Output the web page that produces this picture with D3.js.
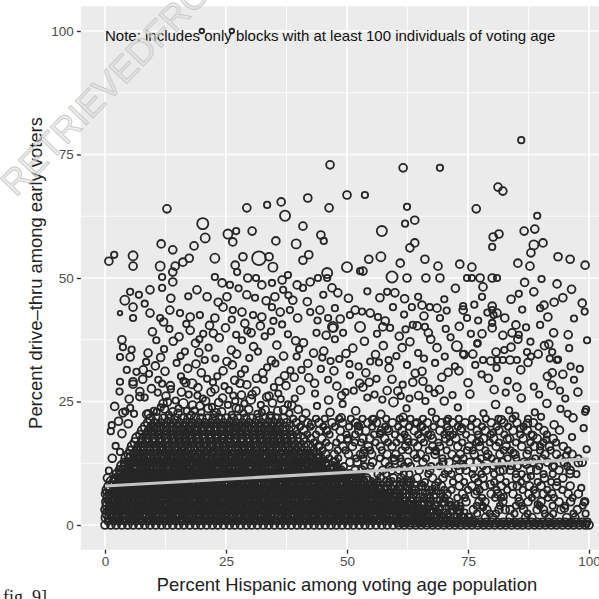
<!DOCTYPE html>
<html>
<head>
<meta charset="utf-8">
<script src="https://cdn.jsdelivr.net/npm/d3@7"></script>
<style>
  body { margin: 0; background: #fff; }
  svg { display: block; font-family: "Liberation Sans", Arial, sans-serif; }
</style>
</head>
<body>
<svg id="chart"></svg>
<script>
// Values. x = percent Hispanic, y = percent drive-thru,
// v = block size (hundreds of voters), drives the circle size.

// Black mass near zero, overlapping blocks: [y, v, [x ...]]
const denseRows = [
  [0, 3, [0,1.2,2.3,3.5,4.7,5.8,7,8.2,9.3,10.5,11.7,12.8,14,15.2,16.3,17.5,18.7,19.8,21,22.2,23.3,24.5,25.7,26.8,28,29.2,30.3,31.5,32.7,33.8,35,36.2,37.3,38.5,39.7,40.8,42,43.2,44.3,45.5,46.7,47.8,49,50.2,51.3,52.5,53.7,54.8,56,57.2,58.3,59.5,60.7,61.8,63,64.2,65.3,66.5,67.7,68.8,70,71.2,72.3,73.5,74.7,75.8,77,78.2,79.3,80.5,81.7,82.8,84,85.2,86.3,87.5,88.7,89.8,91,92.2,93.3,94.5,95.7,96.8,98,99.2,100]],
  [0.3, 2, [60.5,61.4,62.3,63.1,64,64.9,65.7,66.6,67.5,68.3,69.2,70.1,70.9,71.8,72.7,73.5,74.4,75.3,76.1,77,77.9,78.7,79.6,80.5,81.3,82.2,83.1,83.9,84.8,85.7,86.5,87.4,88.3,89.1,90,90.9,91.7,92.6,93.5,94.3,95.2,96.1,96.9,97.8,98.7,99.5]],
  [0.7, 2, [0.6,1.8,2.9,4.1,5.3,6.4,7.6,8.8,9.9,11.1,12.3,13.4,14.6,15.8,16.9,18.1,19.3,20.4,21.6,22.8,23.9,25.1,26.3,27.4,28.6,29.8,30.9,32.1,33.3,34.4,35.6,36.8,37.9,39.1,40.3,41.4,42.6,43.8,44.9,46.1,47.3,48.4,49.6,50.8,51.9,53.1,54.3,55.4,56.6,57.8,58.9,60.1,61.3,62.4,63.6,64.8,65.9,67.1,68.3,69.4,70.6,71.8,72.9,74.1,75.3,76.4,77.6,78.8,79.9,81.1,82.3,83.4,84.6,85.8,86.9,88.1,89.3,90.4,91.6,92.8,93.9,95.1,96.3,97.4,98.6,99.7]],
  [1.5, 4, [0.2,0.9,1.8,2.6,3.6,4.3,5.2,6,7,7.7,8.6,9.4,10.4,11.1,12,12.8,13.8,14.5,15.4,16.2,17.2,17.9,18.8,19.6,20.6,21.3,22.2,23,24,24.7,25.6,26.4,27.4,28.1,29,29.8,30.8,31.5,32.4,33.2,34.2,34.9,35.8,36.6,37.6,38.3,39.2,40,41,41.7,42.6,43.4,44.4,45.1,46,46.8,47.8,48.5,49.4,50.2,51.2,51.9,52.8,53.6,54.6,55.3,56.2,57,58,58.7,59.6,60.4,61.4,62.1,63,63.8,64.8,65.5,66.4,67.2,68.2,68.9,69.8]],
  [2.3, 6, [0.6,1.5,2.2,3.2,4,4.9,5.6,6.6,7.4,8.3,9,10,10.8,11.7,12.4,13.4,14.2,15.1,15.8,16.8,17.6,18.5,19.2,20.2,21,21.9,22.6,23.6,24.4,25.3,26,27,27.8,28.7,29.4,30.4,31.2,32.1,32.8,33.8,34.6,35.5,36.2,37.2,38,38.9,39.6,40.6,41.4,42.3,43,44,44.8,45.7,46.4,47.4,48.2,49.1,49.8,50.8,51.6,52.5,53.2,54.2,55,55.9,56.6,57.6,58.4,59.3,60,61,61.8,62.7,63.4,64.4,65.2,66.1,66.8,67.8]],
  [3.1, 3, [0,0.8,1.8,2.5,3.4,4.2,5.2,5.9,6.8,7.6,8.6,9.3,10.2,11,12,12.7,13.6,14.4,15.4,16.1,17,17.8,18.8,19.5,20.4,21.2,22.2,22.9,23.8,24.6,25.6,26.3,27.2,28,29,29.7,30.6,31.4,32.4,33.1,34,34.8,35.8,36.5,37.4,38.2,39.2,39.9,40.8,41.6,42.6,43.3,44.2,45,46,46.7,47.6,48.4,49.4,50.1,51,51.8,52.8,53.5,54.4,55.2,56.2,56.9,57.8,58.6,59.6,60.3,61.2,62,63,63.7,64.6,65.4,66.4,67.1]],
  [3.9, 5, [0.5,1.5,2.2,3.1,3.9,4.9,5.6,6.5,7.3,8.3,9,9.9,10.7,11.7,12.4,13.3,14.1,15.1,15.8,16.7,17.5,18.5,19.2,20.1,20.9,21.9,22.6,23.5,24.3,25.3,26,26.9,27.7,28.7,29.4,30.3,31.1,32.1,32.8,33.7,34.5,35.5,36.2,37.1,37.9,38.9,39.6,40.5,41.3,42.3,43,43.9,44.7,45.7,46.4,47.3,48.1,49.1,49.8,50.7,51.5,52.5,53.2,54.1,54.9,55.9,56.6,57.5,58.3,59.3,60,60.9,61.7,62.7,63.4,64.3,65.1]],
  [4.7, 4, [0.3,1,1.9,2.7,3.7,4.4,5.3,6.1,7.1,7.8,8.7,9.5,10.5,11.2,12.1,12.9,13.9,14.6,15.5,16.3,17.3,18,18.9,19.7,20.7,21.4,22.3,23.1,24.1,24.8,25.7,26.5,27.5,28.2,29.1,29.9,30.9,31.6,32.5,33.3,34.3,35,35.9,36.7,37.7,38.4,39.3,40.1,41.1,41.8,42.7,43.5,44.5,45.2,46.1,46.9,47.9,48.6,49.5,50.3,51.3,52,52.9,53.7,54.7,55.4,56.3,57.1,58.1,58.8,59.7,60.5,61.5,62.2,63.1]],
  [5.5, 6, [0.8,1.7,2.4,3.4,4.2,5.1,5.8,6.8,7.6,8.5,9.2,10.2,11,11.9,12.6,13.6,14.4,15.3,16,17,17.8,18.7,19.4,20.4,21.2,22.1,22.8,23.8,24.6,25.5,26.2,27.2,28,28.9,29.6,30.6,31.4,32.3,33,34,34.8,35.7,36.4,37.4,38.2,39.1,39.8,40.8,41.6,42.5,43.2,44.2,45,45.9,46.6,47.6,48.4,49.3,50,51,51.8,52.7,53.4,54.4,55.2,56.1,56.8,57.8,58.6,59.5,60.2,61.2]],
  [6.3, 3, [0.1,0.9,1.9,2.6,3.5,4.3,5.3,6,6.9,7.7,8.7,9.4,10.3,11.1,12.1,12.8,13.7,14.5,15.5,16.2,17.1,17.9,18.9,19.6,20.5,21.3,22.3,23,23.9,24.7,25.7,26.4,27.3,28.1,29.1,29.8,30.7,31.5,32.5,33.2,34.1,34.9,35.9,36.6,37.5,38.3,39.3,40,40.9,41.7,42.7,43.4,44.3,45.1,46.1,46.8,47.7,48.5,49.5,50.2,51.1,51.9,52.9,53.6,54.5,55.3,56.3,57,57.9,58.7,59.7,60.4]],
  [7.1, 5, [0.5,1.2,2.1,2.9,3.9,4.6,5.5,6.3,7.3,8,8.9,9.7,10.7,11.4,12.3,13.1,14.1,14.8,15.7,16.5,17.5,18.2,19.1,19.9,20.9,21.6,22.5,23.3,24.3,25,25.9,26.7,27.7,28.4,29.3,30.1,31.1,31.8,32.7,33.5,34.5,35.2,36.1,36.9,37.9,38.6,39.5,40.3,41.3,42,42.9,43.7,44.7,45.4,46.3,47.1,48.1,48.8,49.7,50.5,51.5,52.2,53.1,53.9,54.9,55.6,56.5,57.3,58.3]],
  [7.9, 4, [0.8,1.8,2.6,3.3,4.2,5.2,6,6.7,7.6,8.6,9.4,10.1,11,12,12.8,13.5,14.4,15.4,16.2,16.9,17.8,18.8,19.6,20.3,21.2,22.2,23,23.7,24.6,25.6,26.4,27.1,28,29,29.8,30.5,31.4,32.4,33.2,33.9,34.8,35.8,36.6,37.3,38.2,39.2,40,40.7,41.6,42.6,43.4,44.1,45,46,46.8,47.5,48.4,49.4,50.2,50.9,51.8,52.8,53.6,54.3,55.2,56.2]],
  [8.7, 6, [1.4,2.1,3.1,3.9,4.8,5.5,6.5,7.3,8.2,8.9,9.9,10.7,11.6,12.3,13.3,14.1,15,15.7,16.7,17.5,18.4,19.1,20.1,20.9,21.8,22.5,23.5,24.3,25.2,25.9,26.9,27.7,28.6,29.3,30.3,31.1,32,32.7,33.7,34.5,35.4,36.1,37.1,37.9,38.8,39.5,40.5,41.3,42.2,42.9,43.9,44.7,45.6,46.3,47.3,48.1,49,49.7,50.7,51.5,52.4,53.1,54.1]],
  [9.5, 3, [2,2.9,3.7,4.4,5.4,6.3,7.1,7.8,8.8,9.7,10.5,11.2,12.2,13.1,13.9,14.6,15.6,16.5,17.3,18,19,19.9,20.7,21.4,22.4,23.3,24.1,24.8,25.8,26.7,27.5,28.2,29.2,30.1,30.9,31.6,32.6,33.5,34.3,35,36,36.9,37.7,38.4,39.4,40.3,41.1,41.8,42.8,43.7,44.5,45.2,46.2,47.1,47.9,48.6,49.6,50.5,51.3,52,53]],
  [10.3, 5, [2.6,3.6,4.4,5.3,6,7,7.8,8.7,9.4,10.4,11.2,12.1,12.8,13.8,14.6,15.5,16.2,17.2,18,18.9,19.6,20.6,21.4,22.3,23,24,24.8,25.7,26.4,27.4,28.2,29.1,29.8,30.8,31.6,32.5,33.2,34.2,35,35.9,36.6,37.6,38.4,39.3,40,41,41.8,42.7,43.4,44.4,45.2,46.1,46.8,47.8,48.6,49.5]],
  [11.1, 4, [3.1,3.9,4.8,5.8,6.5,7.3,8.2,9.2,9.9,10.7,11.6,12.6,13.3,14.1,15,16,16.7,17.5,18.4,19.4,20.1,20.9,21.8,22.8,23.5,24.3,25.2,26.2,26.9,27.7,28.6,29.6,30.3,31.1,32,33,33.7,34.5,35.4,36.4,37.1,37.9,38.8,39.8,40.5,41.3,42.2,43.2,43.9,44.7,45.6,46.6,47.3]],
  [11.9, 6, [3.6,4.5,5.5,6.2,7,7.9,8.9,9.6,10.4,11.3,12.3,13,13.8,14.7,15.7,16.4,17.2,18.1,19.1,19.8,20.6,21.5,22.5,23.2,24,24.9,25.9,26.6,27.4,28.3,29.3,30,30.8,31.7,32.7,33.4,34.2,35.1,36.1,36.8,37.6,38.5,39.5,40.2,41,41.9,42.9,43.6,44.4,45.3,46.3]],
  [12.7, 3, [4,4.7,5.6,6.4,7.4,8.1,9,9.8,10.8,11.5,12.4,13.2,14.2,14.9,15.8,16.6,17.6,18.3,19.2,20,21,21.7,22.6,23.4,24.4,25.1,26,26.8,27.8,28.5,29.4,30.2,31.2,31.9,32.8,33.6,34.6,35.3,36.2,37,38,38.7,39.6,40.4,41.4,42.1,43,43.8,44.8,45.5]],
  [13.5, 5, [4.4,5.4,6.5,7.4,8.4,9.4,10.5,11.4,12.4,13.4,14.5,15.4,16.4,17.4,18.5,19.4,20.4,21.4,22.5,23.4,24.4,25.4,26.5,27.4,28.4,29.4,30.5,31.4,32.4,33.4,34.5,35.4,36.4,37.4,38.5,39.4,40.4,41.4,42.5,43.4,44.4]],
  [14.3, 4, [4.9,6,6.9,7.9,8.9,10,10.9,11.9,12.9,14,14.9,15.9,16.9,18,18.9,19.9,20.9,22,22.9,23.9,24.9,26,26.9,27.9,28.9,30,30.9,31.9,32.9,34,34.9,35.9,36.9,38,38.9,39.9,40.9,42,42.9,43.9]],
  [15.1, 3, [5.2,6.7,8,9.3,10.6,11.9,13.2,14.5,15.8,17.1,18.4,19.7,21,22.3,23.6,24.9,26.2,27.5,28.8,30.1,31.4,32.7,34,35.3,36.6,37.9,39.2,40.5,41.8,43.1]],
  [15.9, 5, [5.7,7.1,8.4,9.7,11,12.3,13.6,14.9,16.2,17.5,18.8,20.1,21.4,22.7,24,25.3,26.6,27.9,29.2,30.5,31.8,33.1,34.4,35.7,37,38.3,39.6,40.9,42.2]],
  [16.7, 4, [6.2,7.6,8.9,10.2,11.5,12.8,14.1,15.4,16.7,18,19.3,20.6,21.9,23.2,24.5,25.8,27.1,28.4,29.7,31,32.3,33.6,34.9,36.2,37.5,38.8,40.1,41.4]],
  [17.5, 6, [6.7,8.1,9.4,10.7,12,13.3,14.6,15.9,17.2,18.5,19.8,21.1,22.4,23.7,25,26.3,27.6,28.9,30.2,31.5,32.8,34.1,35.4,36.7,38,39.3,40.6]],
  [18.3, 3, [7.2,8.6,9.9,11.2,12.5,13.8,15.1,16.4,17.7,19,20.3,21.6,22.9,24.2,25.5,26.8,28.1,29.4,30.7,32,33.3,34.6,35.9,37.2,38.5,39.8]],
  [19.1, 5, [7.8,9.2,10.5,11.8,13.1,14.4,15.7,17,18.3,19.6,20.9,22.2,23.5,24.8,26.1,27.4,28.7,30,31.3,32.6,33.9,35.2,36.5,37.8,39.1]],
  [19.9, 4, [8.3,9.7,11,12.3,13.6,14.9,16.2,17.5,18.8,20.1,21.4,22.7,24,25.3,26.6,27.9,29.2,30.5,31.8,33.1,34.4,35.7,37,38.3]],
  [20.7, 3, [8.8,10.2,11.5,12.8,14.1,15.4,16.7,18,19.3,20.6,21.9,23.2,24.5,25.8,27.1,28.4,29.7,31,32.3,33.6,34.9,36.2,37.5]],
  [21.5, 4, [9.4,10.8,12.1,13.4,14.7,16,17.3,18.6,19.9,21.2,22.5,23.8,25.1,26.4,27.7,29,30.3,31.6,32.9,34.2,35.5,36.8]]
];

// Small blocks lying between the rows above: [y, v, [x ...]]
const smallRows = [
  [1.1, 1, [0.5,1.9,3.3,4.7,6.1,7.5,8.9,10.3,11.7,13.1,14.5,15.9,17.3,18.7,20.1,21.5,22.9,24.3,25.7,27.1,28.5,29.9,31.3,32.7,34.1,35.5,36.9,38.3,39.7,41.1,42.5,43.9,45.3,46.7,48.1,49.5,50.9,52.3,53.7,55.1,56.5,57.9,59.3,60.7,62.1,63.5,64.9,66.3,67.7,69.1,70.5,71.9,73.3,74.7,76.1]],
  [1.9, 1, [1.1,2.5,3.9,5.3,6.7,8.1,9.5,10.9,12.3,13.7,15.1,16.5,17.9,19.3,20.7,22.1,23.5,24.9,26.3,27.7,29.1,30.5,31.9,33.3,34.7,36.1,37.5,38.9,40.3,41.7,43.1,44.5,45.9,47.3,48.7,50.1,51.5,52.9,54.3,55.7,57.1,58.5,59.9,61.3,62.7,64.1,65.5,66.9,68.3,69.7,71.1,72.5,73.9,75.3]],
  [2.7, 1, [0.2,1.6,3,4.4,5.8,7.2,8.6,10,11.4,12.8,14.2,15.6,17,18.4,19.8,21.2,22.6,24,25.4,26.8,28.2,29.6,31,32.4,33.8,35.2,36.6,38,39.4,40.8,42.2,43.6,45,46.4,47.8,49.2,50.6,52,53.4,54.8,56.2,57.6,59,60.4,61.8,63.2,64.6,66,67.4,68.8,70.2,71.6,73,74.4]],
  [3.5, 1, [0.8,2.2,3.6,5,6.4,7.8,9.2,10.6,12,13.4,14.8,16.2,17.6,19,20.4,21.8,23.2,24.6,26,27.4,28.8,30.2,31.6,33,34.4,35.8,37.2,38.6,40,41.4,42.8,44.2,45.6,47,48.4,49.8,51.2,52.6,54,55.4,56.8,58.2,59.6,61,62.4,63.8,65.2,66.6,68,69.4,70.8,72.2,73.6]],
  [4.3, 1, [1.3,2.7,4.1,5.5,6.9,8.3,9.7,11.1,12.5,13.9,15.3,16.7,18.1,19.5,20.9,22.3,23.7,25.1,26.5,27.9,29.3,30.7,32.1,33.5,34.9,36.3,37.7,39.1,40.5,41.9,43.3,44.7,46.1,47.5,48.9,50.3,51.7,53.1,54.5,55.9,57.3,58.7,60.1,61.5,62.9,64.3,65.7,67.1,68.5,69.9,71.3,72.7]],
  [5.1, 1, [0.4,1.8,3.2,4.6,6,7.4,8.8,10.2,11.6,13,14.4,15.8,17.2,18.6,20,21.4,22.8,24.2,25.6,27,28.4,29.8,31.2,32.6,34,35.4,36.8,38.2,39.6,41,42.4,43.8,45.2,46.6,48,49.4,50.8,52.2,53.6,55,56.4,57.8,59.2,60.6,62,63.4,64.8,66.2,67.6,69,70.4]],
  [5.9, 1, [1,2.4,3.8,5.2,6.6,8,9.4,10.8,12.2,13.6,15,16.4,17.8,19.2,20.6,22,23.4,24.8,26.2,27.6,29,30.4,31.8,33.2,34.6,36,37.4,38.8,40.2,41.6,43,44.4,45.8,47.2,48.6,50,51.4,52.8,54.2,55.6,57,58.4,59.8,61.2,62.6,64,65.4,66.8,68.2,69.6]],
  [6.7, 1, [0.1,1.5,2.9,4.3,5.7,7.1,8.5,9.9,11.3,12.7,14.1,15.5,16.9,18.3,19.7,21.1,22.5,23.9,25.3,26.7,28.1,29.5,30.9,32.3,33.7,35.1,36.5,37.9,39.3,40.7,42.1,43.5,44.9,46.3,47.7,49.1,50.5,51.9,53.3,54.7,56.1,57.5,58.9,60.3,61.7,63.1,64.5,65.9,67.3,68.7]],
  [7.5, 1, [0.7,2.1,3.5,4.9,6.3,7.7,9.1,10.5,11.9,13.3,14.7,16.1,17.5,18.9,20.3,21.7,23.1,24.5,25.9,27.3,28.7,30.1,31.5,32.9,34.3,35.7,37.1,38.5,39.9,41.3,42.7,44.1,45.5,46.9,48.3,49.7,51.1,52.5,53.9,55.3,56.7,58.1,59.5,60.9,62.3,63.7,65.1,66.5,67.9]],
  [8.3, 1, [1.2,2.6,4,5.4,6.8,8.2,9.6,11,12.4,13.8,15.2,16.6,18,19.4,20.8,22.2,23.6,25,26.4,27.8,29.2,30.6,32,33.4,34.8,36.2,37.6,39,40.4,41.8,43.2,44.6,46,47.4,48.8,50.2,51.6,53,54.4,55.8,57.2,58.6,60,61.4,62.8,64.2,65.6]],
  [9.1, 1, [1.9,3.3,4.7,6.1,7.5,8.9,10.3,11.7,13.1,14.5,15.9,17.3,18.7,20.1,21.5,22.9,24.3,25.7,27.1,28.5,29.9,31.3,32.7,34.1,35.5,36.9,38.3,39.7,41.1,42.5,43.9,45.3,46.7,48.1,49.5,50.9,52.3,53.7,55.1,56.5,57.9,59.3,60.7,62.1,63.5]],
  [9.9, 1, [2.4,3.8,5.2,6.6,8,9.4,10.8,12.2,13.6,15,16.4,17.8,19.2,20.6,22,23.4,24.8,26.2,27.6,29,30.4,31.8,33.2,34.6,36,37.4,38.8,40.2,41.6,43,44.4,45.8,47.2,48.6,50,51.4,52.8]],
  [10.7, 1, [2.9,4.3,5.7,7.1,8.5,9.9,11.3,12.7,14.1,15.5,16.9,18.3,19.7,21.1,22.5,23.9,25.3,26.7,28.1,29.5,30.9,32.3,33.7,35.1,36.5,37.9,39.3,40.7,42.1,43.5,44.9,46.3,47.7,49.1,50.5]],
  [11.5, 1, [3.4,4.8,6.2,7.6,9,10.4,11.8,13.2,14.6,16,17.4,18.8,20.2,21.6,23,24.4,25.8,27.2,28.6,30,31.4,32.8,34.2,35.6,37,38.4,39.8,41.2,42.6,44,45.4,46.8,48.2]],
  [12.3, 1, [3.8,5.2,6.6,8,9.4,10.8,12.2,13.6,15,16.4,17.8,19.2,20.6,22,23.4,24.8,26.2,27.6,29,30.4,31.8,33.2,34.6,36,37.4,38.8,40.2,41.6,43,44.4,45.8,47.2]],
  [13.1, 1, [4.5,5.9,7.3,8.7,10.1,11.5,12.9,14.3,15.7,17.1,18.5,19.9,21.3,22.7,24.1,25.5,26.9,28.3,29.7,31.1,32.5,33.9,35.3,36.7,38.1,39.5,40.9,42.3,43.7,45.1]],
  [13.9, 1, [4.9,6.3,7.7,9.1,10.5,11.9,13.3,14.7,16.1,17.5,18.9,20.3,21.7,23.1,24.5,25.9,27.3,28.7,30.1,31.5,32.9,34.3,35.7,37.1,38.5,39.9,41.3,42.7,44.1]],
  [14.7, 1, [5.5,6.9,8.3,9.7,11.1,12.5,13.9,15.3,16.7,18.1,19.5,20.9,22.3,23.7,25.1,26.5,27.9,29.3,30.7,32.1,33.5,34.9,36.3,37.7,39.1,40.5,41.9]],
  [15.5, 1, [6.2,7.6,9,10.4,11.8,13.2,14.6,16,17.4,18.8,20.2,21.6,23,24.4,25.8,27.2,28.6,30,31.4,32.8,34.2,35.6,37,38.4,39.8]],
  [16.3, 1, [6.6,8,9.4,10.8,12.2,13.6,15,16.4,17.8,19.2,20.6,22,23.4,24.8,26.2,27.6,29,30.4,31.8,33.2,34.6,36,37.4,38.8]],
  [17.1, 1, [7.3,8.7,10.1,11.5,12.9,14.3,15.7,17.1,18.5,19.9,21.3,22.7,24.1,25.5,26.9,28.3,29.7,31.1,32.5,33.9,35.3,36.7,38.1]],
  [17.9, 1, [7.7,9.1,10.5,11.9,13.3,14.7,16.1,17.5,18.9,20.3,21.7,23.1,24.5,25.9,27.3,28.7,30.1,31.5,32.9,34.3,35.7,37.1]],
  [18.7, 1, [8.4,9.8,11.2,12.6,14,15.4,16.8,18.2,19.6,21,22.4,23.8,25.2,26.6,28,29.4,30.8,32.2,33.6,35,36.4]],
  [19.5, 1, [8.9,10.3,11.7,13.1,14.5,15.9,17.3,18.7,20.1,21.5,22.9,24.3,25.7,27.1,28.5,29.9,31.3,32.7,34.1,35.5]],
  [20.3, 1, [9.5,10.9,12.3,13.7,15.1,16.5,17.9,19.3,20.7,22.1,23.5,24.9,26.3,27.7,29.1,30.5,31.9,33.3,34.7]]
];

// Right-hand continuation of the same rows, less crowded: [y, v, [x ...]]
const lightRows = [
  [1.5, 3, [71.3,73.9,75.2,78.6,80.1,83.7,86.9,88.2,91.8,95.4,97.1]],
  [2.3, 2, [69.1,70.8,73.2,76.9,79.5,80.8,84.6,87.3,90.9,92.6,96.8,99.3]],
  [3.1, 3, [68.9,71.7,73,76.1,78.9,81.4,82.7,86.5,89.3,90.6,94.2,97.6]],
  [3.9, 2, [66.8,68.3,71.5,73.4,76.8,78,81.6,84.9,86.1,89.8,92.5,95.1,98.7]],
  [4.7, 3, [65.5,67.2,69.9,71.1,74.6,77.3,78.5,82.2,85.6,87.4,90.1,93.8,96.2,99.1]],
  [5.5, 2, [63.4,65.9,67.1,70.2,72.8,74.4,77.9,80.6,81.9,85.4,88.2,91.5,92.8,96.6]],
  [6.3, 3, [62.2,63.7,66.6,69.4,70.7,73.9,76.5,79.8,81.1,84.3,87.6,89,92.3,95.7,97.8]],
  [7.1, 2, [60.3,62.8,64.1,67.4,70.1,71.6,75,77.4,80.9,83.1,86.3,88.6,91.4,94.5]],
  [7.9, 3, [58.2,60.9,62.4,65.6,68.3,69.5,73.2,75.8,78.4,81.9,84.2,87.7,90.1,93.3,96.1]],
  [8.7, 2, [56.3,58.7,61.5,62.9,66.1,68.8,71.9,74.2,77.1,80.4,82.8,86,89.4,92.2]],
  [9.5, 3, [54.1,56.9,59.6,61.2,64.5,67.7,69.8,73.1,76.4,78.1,81.6,85,87.1,90.8,94.6]],
  [10.3, 2, [50.9,52.4,56.3,58.1,61.7,62.9,66.8,70.2,71.6,75.9,77.8,80.4,84.9,86.1,90.6,92.5,97.4]],
  [11.1, 3, [48.8,51.7,53.1,57.4,59.2,60.8,64.9,67.1,70.9,73.3,74.6,78.8,82.3,83.7,87.9,89.2,93.8,96.1]],
  [11.9, 2, [47.9,49.4,53.6,54.9,58.7,61.8,63.2,67.4,69.1,72.8,74.2,78.1,80.2,83.9,85.3,89.7,92.8,95.5]],
  [12.7, 3, [47.2,50.6,52.1,55.3,57.9,61.2,62.6,65.7,69.8,71.1,75.4,76.9,80.9,82.1,86.6,88.3,91.4,94.9,98.6]],
  [13.5, 2, [46.3,48.2,51.9,53.4,56.8,59.6,61,64.4,66.3,69.7,72.6,74.1,77.7,79.9,83.2,85,88.9,90.4,94.1,97.8]],
  [14.3, 3, [45.6,47.4,50.3,52.8,55.1,58.3,60.1,63.9,65.2,68.2,71.7,73.4,76.3,79.1,81.6,84.7,87.2,90.9,93.3,96.5]],
  [15.1, 2, [44.9,48.1,49.7,53.5,54.8,57.2,61.3,62.7,66.9,68.3,70.6,74.8,76,78.6,82.4,83.8,87.5,89.9,92.1,95.6]],
  [15.9, 3, [44.1,46.3,49.2,51.1,54.4,56.9,59.3,62.1,64.6,67.7,69.1,72.9,75.2,77.4,80.8,82.9,86.1,88.7,91.8,94.7]],
  [16.7, 2, [43.2,45.7,47.8,51.6,52.9,55.9,58.5,60.2,63.8,65.9,68.9,71.2,73.8,76.7,79.5,81.4,84.9,87.9,90.6,93.2]],
  [17.5, 3, [42.5,44.8,48.7,50.2,53.3,54.7,57.8,61.1,62.4,65.3,67.6,70.4,72.5,75.7,78.2,80.3,83.6,86.4,89.3,92.6]],
  [18.3, 2, [41.8,43.6,46.4,49.9,51.7,55.6,56.8,59.9,61.9,64.7,66.8,70.1,71.9,74.6,77.1,79.7,82.5,85.8,88.1,91.3]],
  [19.1, 3, [41.1,44.3,45.8,48.6,52.4,53.9,57.1,58.6,61.4,63.9,66.2,69.2,71.1,73.5,76.9,78.6,81.4,84.3,87.3,90.7]],
  [19.9, 2, [40.3,42.4,45.1,47.5,50.4,52.5,55.2,57.9,60.6,62.8,65.6,67.9,70.7,72.9,75.6,77.9,80.9,83.3,86.5,89.6]],
  [20.7, 3, [39.5,41.9,44.2,46.9,49.1,51.8,54.3,56.1,59.4,61.7,64.5,66.6,69.5,71.8,74.4,76.8,79.8,82.4,85.1,88.5]],
  [21.5, 2, [38.9,40.8,43.6,45.4,48.4,50.8,53.2,55.5,58.1,60.9,63.1,65.7,68.4,70.9,73.1,75.9,78.7,81.3,84.2,87.4]]
];

// Scattered points from the top of the mass up to about 40 percent: [x, y, v]
const midPoints = [
  [0.5,9.5,3],[0.8,11,2],[1.5,13.5,3],[2.2,16,2],[1.2,19,2],[1.4,20.2,2],[2.8,21,3],[3.5,18.5,3],[3.1,14.8,2],[3.7,22.7,3],[5.2,23.7,2],[4.8,20.5,3],[6,22.5,2],[4.2,23,2],[5,25.5,3],[3,27,2],[7.2,27,3],[5.8,28.5,3],[6.5,31,2],[7.2,26,3],[7.8,29.5,3],[8.5,33,2],[5.5,35.5,2],[2,24,3],[3.1,29,2],[5.8,29,3],[4.5,31.4,2],[7.9,31.4,3],[3.1,34,2],[5.2,34,3],[3.7,36,2],[3.5,37.5,3],
  [8.6,22.4,3],[10.7,22.9,2],[12.3,23.5,3],[13.2,22.3,2],[15.1,22.6,3],[16.9,23.1,2],[17.8,22.2,3],[19.9,22.8,2],[21.3,23.6,3],[22.4,22.4,2],[24.1,22.9,3],[26.2,22.3,2],[27.1,23.7,3],[28.6,22.6,2],[29.7,23.4,3],[31.5,22.5,2],[33.1,23.3,3],[34.2,22.2,2],[35.7,23.1,3],[38.1,22.6,2],[39.9,23.4,3],
  [12,24.6,3],[14.6,25.2,2],[18.1,24.3,3],[20.2,25.6,2],[23.5,24.8,3],[26.9,25.1,2],[28.2,26.3,3],[32.2,24.3,2],[33.9,26.1,3],[36.3,25.5,2],[38.6,24.2,3],[10.9,26.8,2],[15.8,26.9,3],[19.1,26.2,2],[22.7,27.5,3],[25.6,27.3,2],[30.4,26.4,3],[34.9,27.9,2],[37.4,28.2,3],[11.8,28.6,2],[16.7,28.8,3],[21.1,29.6,2],[27.9,28.7,3],[32.8,29.4,2],[39.1,29.9,3],
  [9,22.5,3],[11.5,23.8,2],[14,22.9,3],[16.2,24.6,4],[18.5,23.2,2],[20.8,25.1,3],[23,22.7,3],[25.4,24.3,2],[27.7,23.5,3],[30.1,25.4,4],[32.4,22.8,2],[34.6,24.7,3],[36.9,23.3,3],[39.2,25.6,2],[41.5,22.6,3],[43.8,24.1,2],[8.2,25.8,2],[12.6,26.1,3],[17.3,26.4,2],[21.9,26.9,3],[26.5,26.2,2],[31.2,27.1,3],[35.8,26.6,2],[40.4,27.3,3],
  [10.1,23.1,2],[12.9,24.9,3],[15.2,23.6,2],[19.6,24.1,3],[22.1,23.9,2],[24.3,25.7,3],[28.8,24.6,2],[33.4,25.9,3],[37.8,24.4,2],[13.6,27.5,2],[19.2,27.8,3],[24.7,28.1,2],[29.3,28.4,3],
  [9.6,27.6,3],[11,29.4,2],[13.5,28.2,3],[15.7,30.1,2],[18,28.6,4],[19.9,30.8,3],[22.3,28.9,2],[24.4,31.2,3],[26.8,29.3,3],[28.9,31.5,2],[31.3,29.7,3],[33.5,31.9,2],[36,29.1,3],[38.3,31.3,2],[42.1,29.8,3],[44.6,31.6,2],[10.4,32.2,3],[14.8,32.8,2],[17.1,31.7,3],[20.6,33.4,2],[25.2,33.1,3],[29.8,33.8,2],[34.4,33.3,3],[39.6,34.1,2],
  [9.1,30.6,2],[12.4,31.1,3],[16.2,29.2,2],[18.8,32.6,3],[23.2,30.1,2],[26.3,32.4,3],[28.1,30.6,2],[32.6,30.8,3],[35.2,32.7,2],[37.1,30.2,3],[40.6,31.4,2],[43.3,28.7,3],[46.1,29.4,2],[48.9,26.2,3],[51.4,27.2,2],[54.6,28.9,3],[57.3,25.4,2],[60.5,27.1,3],[62.9,25.6,2],[65.7,29.1,3],[68.1,26.7,2],
  [11.5,33.9,3],[15.6,34.2,2],[19.4,34.9,3],[22.8,33.7,2],[27.2,34.6,3],[31.6,35.1,2],[36.9,34.2,3],[40.1,35.6,2],[43.1,34.8,3],[46.6,33.2,2],[49.8,34.7,3],[52.4,32.1,2],[55.9,34.5,3],[58.6,33.4,2],[61.4,35.9,3],[64.7,34.8,2],[67.3,37.6,3],[70.2,34.1,2],[73.1,31.2,3],[76.5,32.4,2],[79.2,29.7,3],
  [8.9,34.8,3],[12.2,35.6,2],[14.1,37.2,3],[16.5,35.1,2],[18.7,36.8,3],[21.4,35.9,2],[23.6,37.9,3],[26.1,35.4,3],[28.3,37.4,2],[30.7,36.1,3],[33,38.2,2],[35.5,36.4,3],[37.8,38.6,2],[41,36.9,3],[43.7,38.9,2],[9.8,39.1,3],[13.3,39.7,2],[17.6,39.4,3],[20.3,38.7,2],[24.9,39.9,3],[29.4,39.3,2],[32.1,40.3,3],[36.6,40.6,2],[45.2,35.2,3],[47.5,37.6,2],
  [10.6,37.4,2],[15.3,38.1,3],[19.5,37.6,2],[22.4,38.8,3],[27.1,38.5,2],[30.2,38.9,3],[34.3,39.2,2],[39.4,37.3,3],[45.7,38.4,3],[49.2,38.9,2],[53.6,37.2,3],[56.2,38.7,2],[60.8,38.2,3],[62.1,39.6,2],[66.8,38.9,3],[70.4,39.7,2],
  [41.2,13.6,3],[44.3,15.9,2],[47.6,12.8,3],[50.1,17.3,2],[53.4,14.4,3],[56.8,18.6,2],[59.9,13.1,3],[62.7,16.8,2],[65.3,19.9,3],[68.4,14.9,2],[71.2,18.1,3],[73.9,12.4,2],
  [42.7,20.4,3],[45.9,19.1,2],[48.8,21.7,3],[52.2,20.1,2],[55.3,21.3,3],[58.4,19.4,2],[61.6,21.8,3],[64.2,20.6,2],[67.3,18.2,3],[70.6,21.1,2],[73.7,19.6,3],
  [43.4,26.6,2],[46.2,25.3,3],[49.7,26.9,2],[52.6,28.7,3],[55.7,26.4,2],[58.3,27.2,3],[61.1,26.1,2],[63.6,28.9,3],[66.2,25.1,2],[69.1,27.4,3],[71.8,26.3,2],
  [41.9,32.7,3],[44.9,33.9,2],[47.3,31.2,3],[50.5,32.6,2],[53.9,30.8,3],[56.6,32.9,2],[59.3,29.5,3],[62.4,32.4,2],[65.5,31.1,3],[68.2,32.8,2],[70.9,30.9,3],
  [46.5,22.8,3],[49.1,24.5,2],[51.8,23.1,3],[54.2,25.8,2],[57,22.4,3],[59.6,24.9,4],[62.3,23.6,2],[64.8,26.2,3],[67.5,22.9,2],[70.1,25.1,3],[72.9,23.8,2],[75.4,26.5,3],[78.2,22.6,2],[80.7,24.4,3],[83.5,23.2,2],[86,25.7,3],[88.8,22.8,2],[91.3,24.6,3],[94.1,23.5,2],[96.7,21.7,3],[99.2,22.9,2],
  [47.9,28.1,3],[50.6,30.3,2],[53.3,27.9,3],[56.1,29.6,2],[58.7,31.8,3],[61.5,28.4,2],[64.1,30.7,3],[66.9,27.6,2],[69.6,29.9,3],[72.3,32.1,2],[75,28.8,3],[77.8,30.5,2],[80.4,27.4,3],[83.2,29.2,2],[85.9,31.4,3],[88.6,28,2],[91.4,30.1,3],[94,27.2,2],[96.9,29.4,2],
  [48.4,33.6,2],[51.2,35.8,3],[54.8,33.1,2],[57.5,36.3,3],[60.2,34.2,2],[63,37.1,3],[65.9,33.7,2],[68.6,35.9,3],[71.4,38,2],[74.2,34.5,3],[76.9,36.7,2],[79.7,33.2,3],[82.5,35.4,2],[85.3,37.6,3],[88,34.1,2],[90.8,36.3,3],[93.6,33.5,2],[96.2,32.1,2],
  [76.1,11.5,3],[78.9,13.8,2],[81.6,10.9,3],[84.4,14.6,2],[87.1,12.3,3],[89.9,15.9,2],[92.5,11.8,3],[95.3,14.1,2],[97.8,12.6,3],[99.5,15.3,2],
  [77.3,16.9,3],[80.2,18.7,2],[83.1,17.4,3],[85.8,19.5,2],[88.4,18.1,3],[91.2,17.3,2],[93.9,19.2,3],[96.5,17.8,2],[98.9,19.6,2],
  [76.8,6.8,2],[79.6,8.2,3],[82.4,5.7,2],[85.2,7.9,3],[88,9.9,2],[90.6,6.3,3],[93.4,8.7,2],[96.1,10.4,3],[98.4,7.5,2],
  [78.1,3.6,2],[83.7,3.1,3],[89.4,4.2,2],[94.9,3.4,3],[99.1,4.6,2],
  [81.9,21.3,3],[84.8,22.1,2],[87.3,20.6,3],[90.1,21.9,2],[92.8,20.3,3],[95.6,22.5,2],[82.8,26.8,2],[85.1,27.9,3],[89.7,26.4,2],[92.3,28.3,3],[95.1,25.6,2],[97.7,26.9,3],[99.4,23.4,2],[80.9,31.8,2],[87.4,32.9,3],[91.9,33.7,2],[94.6,30.5,3],[98.1,31.6,2],[82.2,38.4,3],[87.9,37.1,2],[92.7,38.9,3],[95.9,35.8,2],[99.6,37.4,2],
  [74,34.6,2],[76,34.6,3],[78.1,33.4,2],[80.8,35,3],[81,33.4,2],[82.2,33.4,2],[83.7,33.4,3],[85.1,33.4,2],[87.2,35,2],[89.5,34.6,3],[92.4,35,2],[93.4,33.4,2],[92.4,30.8,3]
];

// Sparser points, roughly 36 to 52 percent
const upperPoints = [
  [4.1,45.5,4],[3.1,42.9,1],[5.2,47.2,2],[7,46.6,2],[5.8,44.1,3],[5.8,41.9,2],[9.3,47.6,3],[11.8,48,2],[14,49.2,3],[11.8,50.2,2],[14,51.2,3],[19,47.6,3],[21.1,46.2,3],[22.7,50.2,2],[24.2,49,3],[25.8,48.6,2],[25.2,46.2,3],[27.3,51.2,2],[29.3,46.6,3],[31,46,2],[29.5,50,3],[31.2,50,2],[32.4,48.6,3],[34.5,49,2],[35.1,46.2,3],[36.8,47.6,2],[36.6,49.6,3],[37.8,50.6,2],[39.7,48.6,3],[40.9,48,2],[42.4,49.2,3],[44,50,2],[45.9,50,2],[45.9,51,5],[46.9,48,3],
  [24.4,44.1,3],[26.4,43.5,2],[28.3,43.1,3],[22.7,41.9,3],[30.6,42.5,2],[32.4,42.1,3],[34.5,44.1,2],[36.2,43.1,3],[38.2,43.5,2],[38.8,45.5,3],[42.4,43.1,2],[44.4,43.5,3],[46.1,41.9,2],[47.1,39.9,3],[9.3,42.9,3],[11.4,41.9,2],[13.4,43.5,3],[15.5,42.9,2],[17.6,42.1,3],[19.6,42.5,2],
  [12.1,41.1,3],[16.8,40.7,2],[21.6,40.4,3],[26.2,41.6,2],[28.9,40.8,3],[34.8,41.3,2],[39.8,41.9,3],[43.9,41.4,2],[48.6,41.7,3],[53.1,43.2,2],[57.9,41.3,3],[61.8,42.6,2],[65.9,42.3,3],[70.6,43.4,2],[73.2,40.2,3],[77.1,41.4,2],[82.6,41.9,3],[86.2,43.6,2],[92.8,45.1,3],[96.9,41.8,2],[98.6,44.9,3],
  [8.2,44.8,2],[13.6,45.9,3],[17.2,46.3,2],[23.4,45.1,3],[27.6,47.9,2],[33.3,45.4,3],[37.9,46.5,2],[41.8,45.2,3],[45.1,46.6,2],[50.3,45.9,3],[54.2,47.3,2],[61.9,45.8,3],[70.1,45.7,2],[72.4,47.9,3],[76.3,44.6,2],[86.7,49.1,3],[90.2,49.8,2],[96.4,47.7,3],[99.1,43.2,2],
  [47.1,40.1,5],[52.7,40.1,5],[48.1,47,3],[47.5,43.9,2],[51.7,43.5,3],[50.6,42.5,2],[56.8,46,3],[58.3,47.2,2],[59.9,47,3],[59.5,44.1,2],[63.4,44.1,2],[65.5,44.5,3],[67.1,44.1,2],[68.6,43.9,3],[64.7,46.2,2],[63.6,40.5,2],[64.5,40.3,3],[66.1,40.1,2],[57.4,40.1,3],[58.9,39.9,2],[69.2,41.9,2],[54.8,42.9,3],[56.4,42.1,2],
  [52.7,51.4,2],[53.3,51.4,3],[59.3,50.2,6],[62.4,50,3],[66.3,50,3],[69.2,50,3],[74.8,50,2],[75.8,50,2],[77.5,50,3],[80,50,3],[81,50,2],[93.4,48.8,3],[94.6,46,3],[78.1,48.2,3],[77.9,46.2,2],[83.9,45.7,3],[85.5,46.8,2],[88.6,47.2,3],[89.9,43.9,2],[90.7,44.5,3],[91.5,42.1,3],[89.9,40.5,2],[95.7,38.5,3],[87,40,2],[84.9,40.5,3],[84.1,38.9,3],[85.5,38.5,2],[83.9,36,3],[91.7,36.6,3],[80,43.5,2],[80,44.3,3],[80.3,42.5,2],[81,42.9,3],[80,40.9,2],[80,39.9,3],[79,43,2],[74,44.3,2],[74,43.5,3],[74.8,41.9,2],[75.6,38.7,2],[77.9,38.7,3],[77,36.8,2],[72.7,36.2,5]
];

// Isolated blocks with high drive-thru share
const outlierPoints = [
  [20,100,1],[26.2,100,1],[86,77.9,2],[46.5,72.9,3],[61.6,72.3,3],[69.2,72.3,2],
  [12.8,64,3],[29.3,64.2,3],[33.5,64.8,2],[36.4,65.4,3],[41.9,66.2,3],[46.3,64.2,3],[37.2,62.6,5],[20.2,61,6],[20.7,58.1,4],[25.4,58.9,4],[27.1,59.5,2],[30.4,59.5,3],[26.4,57.3,3],[11.6,56.9,3],[14,55.7,3],[18.4,56.5,3],[35.3,57.5,3],[39.5,56.9,4],[40.9,60.5,3],[44.6,58.7,3],[45.2,57.5,2],
  [0.8,53.4,3],[1.9,54.7,2],[5.8,54.5,4],[5.8,52.4,3],[11.4,52.4,4],[14.5,52.4,3],[16.1,53.2,3],[17.4,54,3],[22.7,54,4],[28.5,54.3,3],[31.8,54,9],[33.9,54.3,3],[34.7,52.2,4],[26.9,52.6,3],[40.9,53.6,3],[42.1,54.7,3],
  [50,66.8,3],[53.7,66.8,2],[62.4,64.4,2],[76.7,64,3],[81.2,68.4,3],[82.2,67.6,3],[89.3,62.6,2],[62,61,2],[64,61.7,3],[57.2,59.5,5],[64,57.1,3],[63,56.1,3],[54.5,53.8,3],[57,54.3,4],[61,53,3],[66.1,53.8,3],[68.8,52.4,3],[73.3,52.8,3],[75.8,52.2,3],[80.2,58.3,3],[81.4,58.9,3],[80,56.3,2],[86.6,59.5,3],[88.8,59.9,3],[88.6,56.7,4],[90.5,57.1,3],[88,55.1,3],[93.6,54.3,3],[96.1,53.8,3],[99.2,52.6,3],[85.3,53,3],[87.8,52.4,3],[50,52.2,5]
];

// Least-squares fit as drawn: value at x = 0 and x = 100
const fitLine = [[0, 7.9], [100, 13.4]];

const xTicks = [0, 25, 50, 75, 100];
const yTicks = [0, 25, 50, 75, 100];
const minorTicks = [12.5, 37.5, 62.5, 87.5];

const noteText = 'Note: includes only blocks with at least 100 individuals of voting age';
const xTitle = 'Percent Hispanic among voting age population';
const yTitle = 'Percent drive\u2013thru among early voters';

class ScatterPlot {

    constructor(_config) {
        this.config = {
            parentElement: _config.parentElement,
            containerWidth: _config.containerWidth || 599,
            containerHeight: _config.containerHeight || 599,
            panel: _config.panel
        };
        this.initVis();
    }

    initVis() {
        let vis = this;
        const p = vis.config.panel;

        vis.svg = d3.select(vis.config.parentElement)
            .attr('width', vis.config.containerWidth)
            .attr('height', vis.config.containerHeight);

        // ggplot pads the data range by 5% on each side
        vis.xScale = d3.scaleLinear().domain([-5, 105]).range([p.left, p.right]);
        vis.yScale = d3.scaleLinear().domain([-5, 105]).range([p.bottom, p.top]);
        vis.rScale = d3.scaleSqrt().domain([0, 9]).range([0, 6.8]);

        vis.points = [];
        [denseRows, smallRows, lightRows].forEach(rows =>
            rows.forEach(([y, v, xs]) => xs.forEach(x => vis.points.push({ x, y, v }))));
        [midPoints, upperPoints, outlierPoints].forEach(arr =>
            arr.forEach(([x, y, v]) => vis.points.push({ x, y, v })));

        vis.renderVis();
    }

    renderVis() {
        let vis = this;
        const p = vis.config.panel;
        const x = vis.xScale, y = vis.yScale;

        // --------- Panel + grid ---------
        vis.svg.append('rect')
            .attr('x', p.left).attr('y', p.top)
            .attr('width', p.right - p.left).attr('height', p.bottom - p.top)
            .attr('fill', '#ebebeb');

        const grid = vis.svg.append('g');
        minorTicks.forEach(t => {
            grid.append('line').attr('x1', x(t)).attr('x2', x(t)).attr('y1', p.top).attr('y2', p.bottom)
                .attr('stroke', '#fff').attr('stroke-width', 0.8);
            grid.append('line').attr('y1', y(t)).attr('y2', y(t)).attr('x1', p.left).attr('x2', p.right)
                .attr('stroke', '#fff').attr('stroke-width', 0.8);
        });
        xTicks.forEach(t => grid.append('line').attr('x1', x(t)).attr('x2', x(t)).attr('y1', p.top).attr('y2', p.bottom)
            .attr('stroke', '#fff').attr('stroke-width', 1.7));
        yTicks.forEach(t => grid.append('line').attr('y1', y(t)).attr('y2', y(t)).attr('x1', p.left).attr('x2', p.right)
            .attr('stroke', '#fff').attr('stroke-width', 1.7));

        // --------- Points ---------
        vis.svg.append('g')
            .selectAll('.point')
            .data(vis.points)
            .join('circle')
            .attr('class', 'point')
            .attr('cx', d => x(d.x))
            .attr('cy', d => y(d.y))
            .attr('r', d => vis.rScale(d.v))
            .attr('fill', 'none')
            .attr('stroke', '#262626')
            .attr('stroke-width', 1.8);

        // --------- Fit line ---------
        vis.svg.append('path')
            .datum(fitLine)
            .attr('d', d3.line().x(d => x(d[0])).y(d => y(d[1])))
            .attr('fill', 'none')
            .attr('stroke', '#c4c4c4')
            .attr('stroke-width', 3.2);

        // --------- Axes ---------
        const xAxis = d3.axisBottom(x).tickValues(xTicks).tickSize(4).tickPadding(3);
        const yAxis = d3.axisLeft(y).tickValues(yTicks).tickSize(4).tickPadding(3);

        const gx = vis.svg.append('g').attr('transform', `translate(0,${p.bottom})`).call(xAxis);
        const gy = vis.svg.append('g').attr('transform', `translate(${p.left},0)`).call(yAxis);
        [gx, gy].forEach(g => {
            g.select('.domain').remove();
            g.selectAll('.tick line').attr('stroke', '#333').attr('stroke-width', 1.4);
            g.selectAll('.tick text').attr('fill', '#4d4d4d').attr('font-size', 13.5)
                .attr('font-family', '"Liberation Sans", Arial, sans-serif');
        });

        vis.svg.append('text')
            .attr('x', (p.left + p.right) / 2).attr('y', 591)
            .attr('text-anchor', 'middle')
            .attr('font-size', 18.4).attr('fill', '#222')
            .text(xTitle);

        vis.svg.append('text')
            .attr('transform', `translate(42,273) rotate(-90)`)
            .attr('text-anchor', 'middle')
            .attr('font-size', 18.4).attr('fill', '#222')
            .text(yTitle);

        vis.svg.append('text')
            .attr('x', x(0)).attr('y', 41)
            .attr('font-size', 15).attr('fill', '#111')
            .text(noteText);

        // scan artefacts on the source page
        vis.svg.append('text')
            .attr('transform', 'translate(16,198) rotate(-46)')
            .attr('font-size', 36)
            .attr('fill', '#dcdcdc').attr('fill-opacity', 0.55)
            .attr('stroke', '#c2c2c2').attr('stroke-width', 0.7)
            .text('RETRIEVEDFROM');

        vis.svg.append('text')
            .attr('x', 3).attr('y', 603)
            .attr('font-family', '"Liberation Serif", serif')
            .attr('font-size', 18).attr('fill', '#222')
            .text('fig. 9]');
    }
}

new ScatterPlot({
    parentElement: '#chart',
    containerWidth: 599,
    containerHeight: 599,
    panel: { left: 80.8, right: 613.2, top: 6.3, bottom: 549.7 }
});
</script>
</body>
</html>
